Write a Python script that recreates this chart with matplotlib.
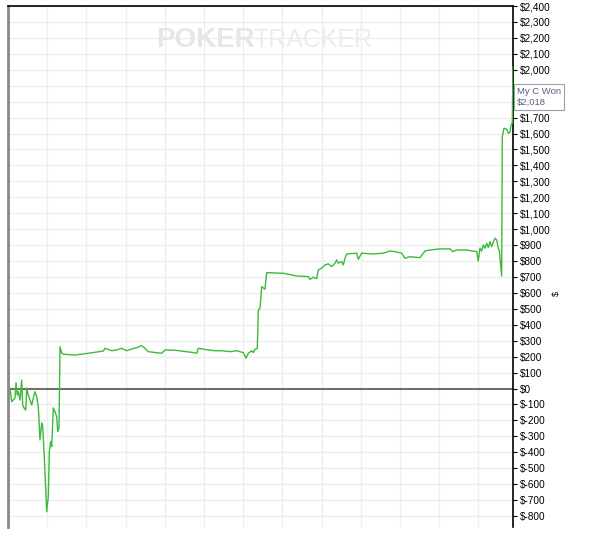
import matplotlib.pyplot as plt
import numpy as np
from matplotlib.ticker import MultipleLocator, FuncFormatter

# cumulative winnings (hand number, $ won)
hands = [51, 94, 135, 179, 204, 237, 263, 306, 349, 375, 408, 452, 477, 518,
         561, 605, 645, 689, 732, 773, 816, 860, 885, 926, 987, 1028, 1054,
         1089, 1115, 1156, 1199, 1242, 1268, 1301, 1327, 1370, 1411, 1709,
         2048, 2431, 2474, 2645, 2773, 2901, 3028, 3156, 3283, 3411, 3495,
         3579, 3921, 4005, 4260, 4431, 4686, 4814, 4855, 5110, 5281, 5452,
         5663, 5834, 6003, 6071, 6130, 6217, 6258, 6301, 6360, 6385, 6429,
         6472, 6556, 6599, 7023, 7365, 7661, 7704, 7788, 7875, 7916, 8002,
         8087, 8171, 8258, 8342, 8385, 8426, 8513, 8554, 8597, 8640, 8895,
         8936, 9023, 9319, 9574, 9745, 9872, 10043, 10128, 10255, 10510,
         10638, 10765, 11020, 11276, 11344, 11446, 11701, 11786, 11957,
         11997, 12041, 12084, 12125, 12168, 12212, 12253, 12296, 12339,
         12380, 12423, 12467, 12508, 12533, 12594, 12610, 12653, 12722,
         12763, 12806, 12832, 12865, 12883]
won = [3, -83, -72, -60, 36, -41, -20, -72, 53, -104, -122, -135, 3, -41,
       -72, -104, -60, -20, -51, -114, -323, -217, -240, -428, -773, -679,
       -397, -334, -365, -122, -146, -177, -271, -248, 262, 223, 215, 210,
       221, 235, 252, 237, 242, 252, 237, 248, 256, 269, 252, 231, 221, 242,
       240, 235, 227, 221, 252, 242, 237, 237, 231, 237, 225, 190, 221, 237,
       225, 246, 252, 493, 503, 639, 623, 727, 723, 706, 702, 685, 698, 689,
       744, 755, 775, 782, 765, 786, 807, 786, 796, 775, 817, 844, 849, 811,
       849, 844, 849, 863, 859, 849, 817, 827, 821, 863, 869, 876, 876, 859,
       869, 869, 865, 859, 800, 880, 863, 901, 880, 911, 884, 922, 890, 918,
       943, 932, 880, 869, 706, 1581, 1633, 1627, 1602, 1606, 1654, 1665,
       2018]

series_name = "My C Won"
final_value = won[-1]
# tick labels hidden behind the tooltip
hidden_ticks = [1800, 1900]

fig = plt.figure(figsize=(5.91, 5.38), dpi=100)
ax = fig.add_axes([8 / 591, 1 - 527 / 538, 505 / 591, 521 / 538])

ax.plot(hands, won, color="#3cb93c", lw=1.0, zorder=3)
ax.axhline(0, color="#606060", lw=1.3, zorder=2)

ax.set_xlim(0, 12883)
ax.set_ylim(-869, 2400)
ax.xaxis.set_major_locator(MultipleLocator(1000))
ax.yaxis.set_major_locator(MultipleLocator(100))
ax.grid(True, color="#eeeeee", lw=1.0, zorder=0)
ax.tick_params(axis="x", bottom=False, labelbottom=False)
ax.yaxis.tick_right()
ax.tick_params(axis="y", length=3, width=0.8, pad=2, labelsize=7.2,
               colors="black")


def money(v, p):
    v = int(round(v))
    if v in hidden_ticks:
        return ""
    return f"${v:,}" if v >= 0 else f"$-{-v:,}"


ax.yaxis.set_major_formatter(FuncFormatter(money))
for lab in ax.get_yticklabels():
    lab.set_family("Liberation Sans")

ax.spines["bottom"].set_visible(False)
ax.spines["top"].set_color("black")
ax.spines["top"].set_linewidth(1.2)
ax.spines["right"].set_color("black")
ax.spines["right"].set_linewidth(1.2)
ax.spines["left"].set_color("#888888")
ax.spines["left"].set_linewidth(2)

# watermark
fig.text(156 / 591, 1 - 40 / 538, "POKER", fontsize=20, fontweight="bold",
         color="#e6e6e6", family="Liberation Sans", va="center", ha="left")
fig.text(253 / 591, 1 - 40 / 538, "TRACKER", fontsize=18, color="#ececec",
         family="Liberation Sans", va="center", ha="left")

fig.text(556 / 591, 1 - 293 / 538, "$", fontsize=6.5, rotation=90,
         va="center", ha="center", family="Liberation Sans")

# tooltip
fig.text(517 / 591, 1 - 87 / 538, f"{series_name}\n${final_value:,}",
         fontsize=6.8, color="#5a6080", family="Liberation Sans",
         va="top", ha="left", linespacing=1.25, zorder=10,
         bbox=dict(boxstyle="square,pad=0.35", fc="white", ec="#a0a0a0",
                   lw=0.8))

fig.savefig("out.png", dpi=100)
